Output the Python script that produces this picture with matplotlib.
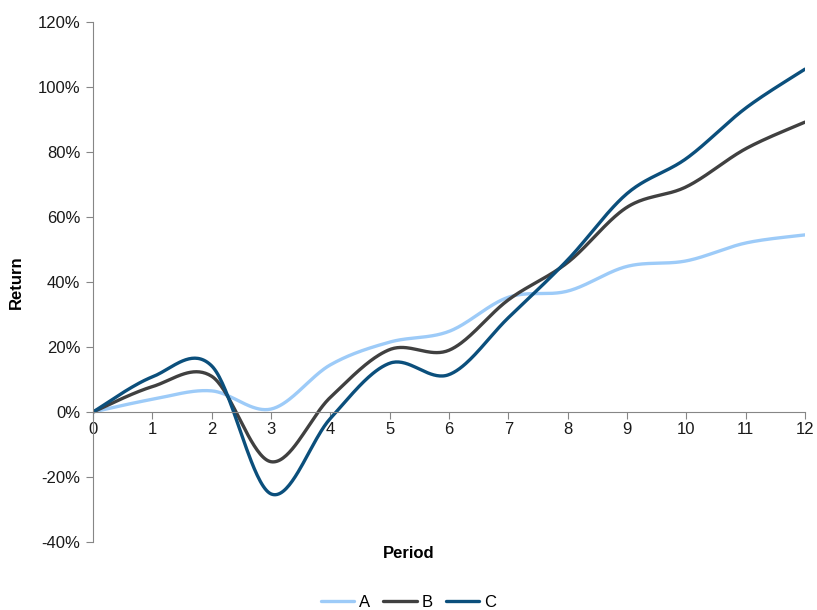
import numpy as np
import matplotlib
matplotlib.use("Agg")
import matplotlib.pyplot as plt
from matplotlib.ticker import FuncFormatter, MultipleLocator

plt.rcParams['font.family'] = ['Liberation Sans', 'DejaVu Sans']

periods = list(range(13))
series_a = [0.0, 3.9, 6.5, 0.9, 14.5, 21.5, 24.8, 35.3, 37.2, 44.8, 46.5, 52.0, 54.5]
series_b = [0.0, 7.8, 11.0, -15.3, 4.5, 19.2, 19.0, 34.5, 46.0, 63.0, 69.3, 81.0, 89.2]
series_c = [0.0, 10.8, 14.2, -25.2, -2.0, 15.0, 11.5, 29.0, 46.8, 67.2, 78.0, 93.5, 105.5]
names = ['A', 'B', 'C']
colors = ['#9DCBF8', '#404040', '#0B4F7C']


def smooth(xs, ys, n=40):
    """Cubic Bezier smoothing through every point (Catmull-Rom style)."""
    x = np.asarray(xs, float)
    y = np.asarray(ys, float)
    px = np.concatenate([[x[0]], x, [x[-1]]])
    py = np.concatenate([[y[0]], y, [y[-1]]])
    t = np.linspace(0, 1, n)[:, None]
    out_x, out_y = [], []
    for i in range(1, len(px) - 2):
        p0 = np.array([px[i - 1], py[i - 1]])
        p1 = np.array([px[i], py[i]])
        p2 = np.array([px[i + 1], py[i + 1]])
        p3 = np.array([px[i + 2], py[i + 2]])
        b1 = p1 + (p2 - p0) / 6
        b2 = p2 - (p3 - p1) / 6
        pts = ((1 - t) ** 3) * p1 + 3 * ((1 - t) ** 2) * t * b1 \
            + 3 * (1 - t) * t ** 2 * b2 + t ** 3 * p2
        out_x.append(pts[:, 0])
        out_y.append(pts[:, 1])
    return np.concatenate(out_x), np.concatenate(out_y)


fig = plt.figure(figsize=(8.17, 6.10), dpi=100)
ax = fig.add_axes([0.1138, 0.1115, 0.8715, 0.8524])

for name, vals, col in zip(names, [series_a, series_b, series_c], colors):
    sx, sy = smooth(periods, vals)
    ax.plot(sx, sy, color=col, lw=2.4, label=name, solid_capstyle='round')

ax.set_xlim(0, 12)
ax.set_ylim(-40, 120)
ax.yaxis.set_major_locator(MultipleLocator(20))
ax.yaxis.set_major_formatter(FuncFormatter(lambda v, p: f"{v:.0f}%"))
ax.set_xticks(periods)

axis_col = '#868686'
for s in ['top', 'right']:
    ax.spines[s].set_visible(False)
ax.spines['bottom'].set_position(('data', 0))
ax.spines['bottom'].set_color(axis_col)
ax.spines['left'].set_color(axis_col)
ax.tick_params(axis='y', direction='out', length=5, color=axis_col,
               labelsize=12, labelcolor='#1a1a1a', pad=4)
ax.tick_params(axis='x', direction='out', length=5, color=axis_col,
               labelsize=12, labelcolor='#1a1a1a', pad=2)

ax.set_ylabel('Return', fontsize=12, fontweight='bold', labelpad=10)
fig.text(0.5, 0.093, 'Period', ha='center', va='center', fontsize=12,
         fontweight='bold')

fig.legend(loc='lower center', ncol=3, frameon=False, fontsize=12,
           bbox_to_anchor=(0.5, -0.025), handlelength=2.0, handletextpad=0.3,
           columnspacing=0.8)

fig.savefig('out.png', dpi=100, facecolor='white')
